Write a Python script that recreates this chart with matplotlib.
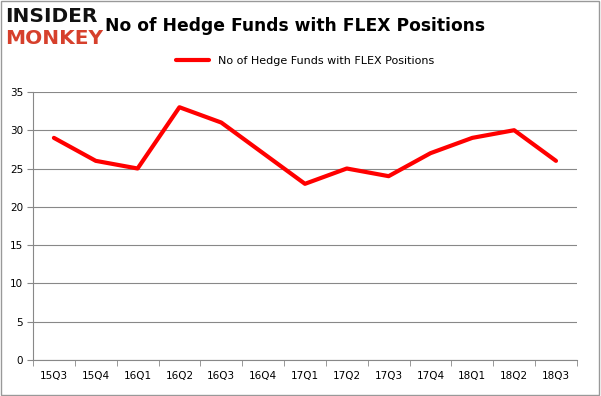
import matplotlib.pyplot as plt
import numpy as np

quarters = ['15Q3', '15Q4', '16Q1', '16Q2', '16Q3', '16Q4', '17Q1',
            '17Q2', '17Q3', '17Q4', '18Q1', '18Q2', '18Q3']
funds = [29, 26, 25, 33, 31, 27, 23, 25, 24, 27, 29, 30, 26]
series_name = 'No of Hedge Funds with FLEX Positions'

fig = plt.figure(figsize=(6.01, 3.96), dpi=100)
ax = fig.add_axes([0.0549, 0.0909, 0.905, 0.677])

x = np.arange(len(quarters))
ax.plot(x, funds, color='#ff0000', lw=3, solid_capstyle='round', label=series_name)

ax.set_xlim(-0.5, len(quarters) - 0.5)
ax.set_ylim(0, 35)
ax.set_yticks(range(0, 36, 5))
ax.set_xticks(x)
ax.set_xticklabels(quarters)
ax.set_xticks(np.arange(-0.5, len(quarters), 1), minor=True)
ax.tick_params(axis='x', which='major', length=0, pad=8, labelsize=7.5)
ax.tick_params(axis='x', which='minor', length=4, color='#888888')
ax.tick_params(axis='y', length=4, color='#888888', labelsize=7.5, pad=3)
ax.grid(axis='y', color='#888888', lw=0.8)
ax.set_axisbelow(True)
for s in ['top', 'right']:
    ax.spines[s].set_visible(False)
for s in ['left', 'bottom']:
    ax.spines[s].set_color('#888888')

leg = ax.legend(loc='center', bbox_to_anchor=(0.5, 1.116), frameon=False,
                fontsize=8, handlelength=3)

fig.text(0.175, 0.935, 'No of Hedge Funds with FLEX Positions', fontsize=12.3,
         fontweight='bold', va='center', ha='left')
fig.text(0.009, 0.958, 'INSIDER', fontsize=14.5, fontweight='heavy', color='#111111',
         va='center', ha='left', family='DejaVu Sans')
fig.text(0.009, 0.902, 'MONKEY', fontsize=14.5, fontweight='heavy', color='#d6402c',
         va='center', ha='left', family='DejaVu Sans')

# outer border
fig.patches.append(plt.Rectangle((0.002, 0.003), 0.995, 0.994, transform=fig.transFigure,
                                 fill=False, edgecolor='#999999', lw=1))

fig.savefig('out.png', dpi=100)
